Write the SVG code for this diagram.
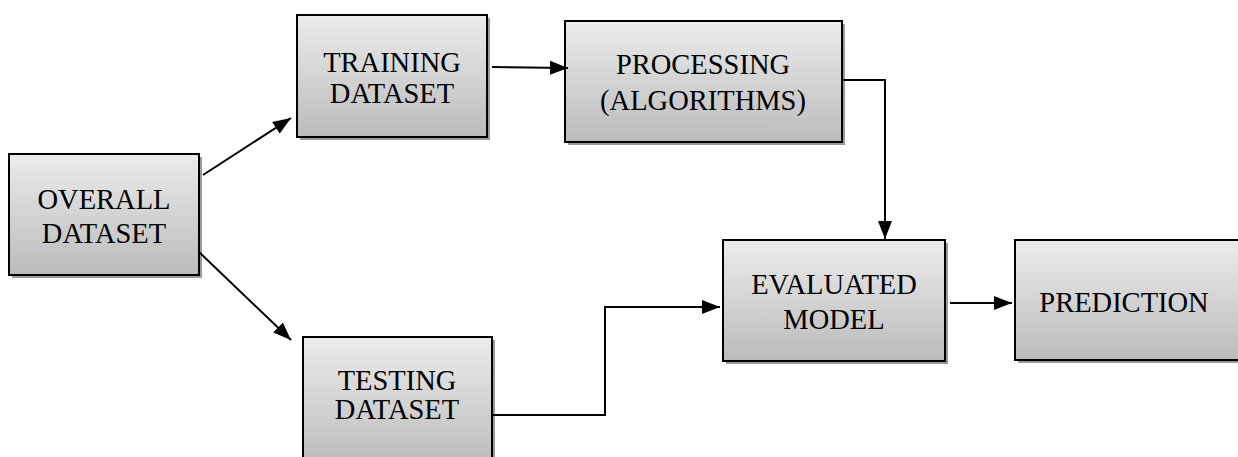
<svg xmlns="http://www.w3.org/2000/svg" width="1238" height="457" viewBox="0 0 1238 457">
  <style>
    .box { fill: url(#boxFill); stroke: #000; stroke-width: 2; }
    .shadow { fill: #9a9a9a; }
    .label { font-family: 'Liberation Serif', 'DejaVu Serif', serif; font-size: 28.5px; fill: #000; text-anchor: middle; }
    .conn { fill: none; stroke: #000; stroke-width: 2; }
  </style>
  <defs>
    <linearGradient id="boxFill" x1="0" y1="0" x2="0" y2="1">
      <stop offset="0" stop-color="#ececec"/>
      <stop offset="1" stop-color="#bbbbbb"/>
    </linearGradient>
    <marker id="arrow" viewBox="0 0 18 14" refX="18" refY="7" markerWidth="18" markerHeight="14" markerUnits="userSpaceOnUse" orient="auto">
      <path d="M0,0 L18,7 L0,14 Z" fill="#000"/>
    </marker>
  </defs>

  <rect width="1238" height="457" fill="#fff"/>

  <g id="overall">
    <rect class="shadow" x="12" y="157" width="190" height="121"/>
    <rect class="box" x="9" y="154" width="190" height="121"/>
    <text class="label" x="104" y="209">OVERALL</text>
    <text class="label" x="104" y="243">DATASET</text>
  </g>

  <g id="training">
    <rect class="shadow" x="300" y="18" width="190" height="122"/>
    <rect class="box" x="297" y="15" width="190" height="122"/>
    <text class="label" x="392" y="72">TRAINING</text>
    <text class="label" x="392" y="103">DATASET</text>
  </g>

  <g id="processing">
    <rect class="shadow" x="568" y="24" width="277" height="121"/>
    <rect class="box" x="565" y="21" width="277" height="121"/>
    <text class="label" x="703" y="74">PROCESSING</text>
    <text class="label" x="703" y="110">(ALGORITHMS)</text>
  </g>

  <g id="testing">
    <rect class="shadow" x="306" y="340" width="189" height="130"/>
    <rect class="box" x="303" y="337" width="189" height="130"/>
    <text class="label" x="397" y="390">TESTING</text>
    <text class="label" x="397" y="419">DATASET</text>
  </g>

  <g id="evaluated">
    <rect class="shadow" x="726" y="243" width="222" height="121"/>
    <rect class="box" x="723" y="240" width="222" height="121"/>
    <text class="label" x="834" y="294">EVALUATED</text>
    <text class="label" x="834" y="329">MODEL</text>
  </g>

  <g id="prediction">
    <rect class="shadow" x="1018" y="243" width="230" height="120"/>
    <rect class="box" x="1015" y="240" width="230" height="120"/>
    <text class="label" x="1124" y="312">PREDICTION</text>
  </g>

  <g id="connectors">
    <path class="conn" d="M203,175 L291,118" marker-end="url(#arrow)"/>
    <path class="conn" d="M199,252 L291,340" marker-end="url(#arrow)"/>
    <path class="conn" d="M492,67 L568,68" marker-end="url(#arrow)"/>
    <path class="conn" d="M842,80 L885,80 L885,239" marker-end="url(#arrow)"/>
    <path class="conn" d="M492,415 L605,415 L605,307 L720,307" marker-end="url(#arrow)"/>
    <path class="conn" d="M950,303 L1012,303" marker-end="url(#arrow)"/>
  </g>
</svg>
